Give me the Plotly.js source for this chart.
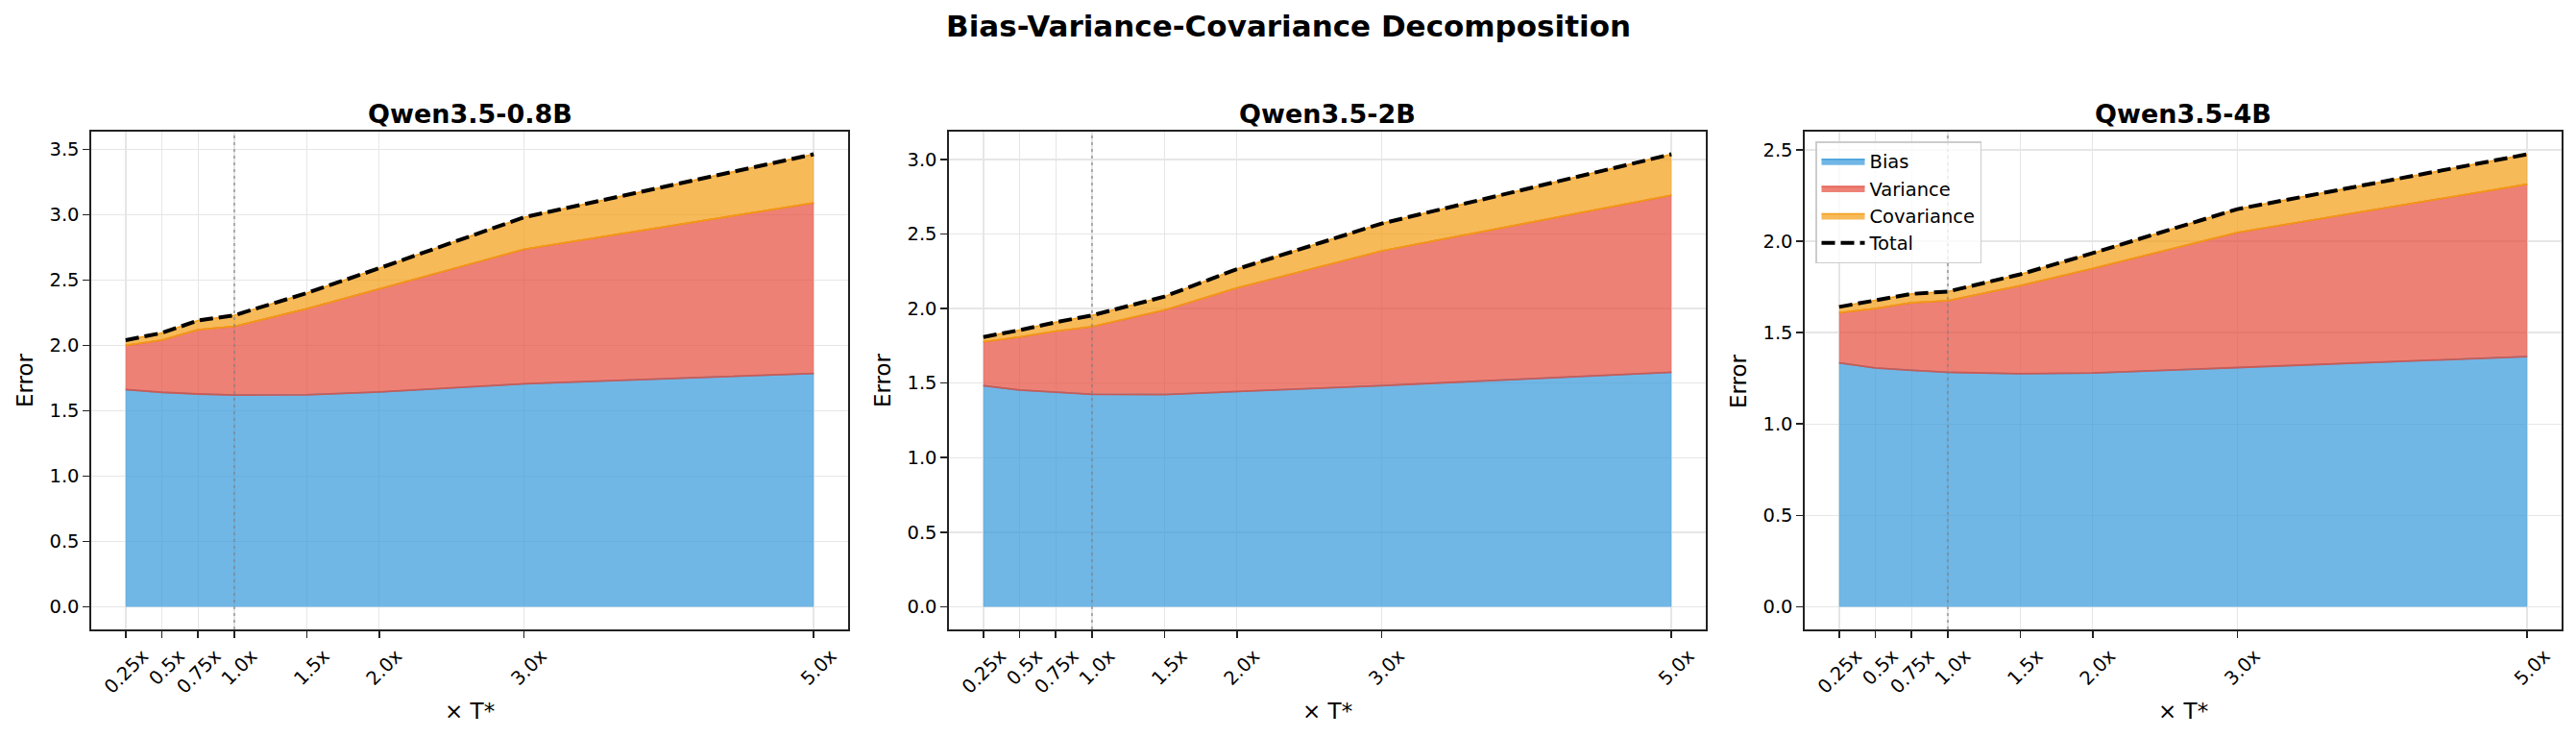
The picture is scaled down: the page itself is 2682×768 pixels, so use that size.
<!DOCTYPE html>
<html>
<head>
<meta charset="utf-8">
<script src="https://cdn.plot.ly/plotly-3.0.1.min.js"></script>
<style>html,body{margin:0;padding:0;background:#fff;}</style>
</head>
<body>
<div id="chart" style="width:2682px;height:768px;"></div>
<script>
// ---- data ----
const multipliers = [0.25, 0.5, 0.75, 1.0, 1.5, 2.0, 3.0, 5.0];
const tickLabels = ['0.25x', '0.5x', '0.75x', '1.0x', '1.5x', '2.0x', '3.0x', '5.0x'];
const modelNames = ['Qwen3.5-0.8B', 'Qwen3.5-2B', 'Qwen3.5-4B'];

const bias08 = [1.662, 1.641, 1.628, 1.620, 1.622, 1.643, 1.706, 1.785];
const variance08 = [0.338, 0.399, 0.492, 0.525, 0.658, 0.787, 1.029, 1.305];
const covariance08 = [0.040, 0.055, 0.070, 0.085, 0.120, 0.160, 0.245, 0.372];

const bias2 = [1.483, 1.453, 1.439, 1.425, 1.423, 1.444, 1.483, 1.572];
const variance2 = [0.294, 0.356, 0.409, 0.453, 0.566, 0.694, 0.903, 1.187];
const covariance2 = [0.032, 0.046, 0.060, 0.076, 0.091, 0.126, 0.184, 0.275];

const bias4 = [1.335, 1.307, 1.294, 1.283, 1.275, 1.279, 1.309, 1.369];
const variance4 = [0.274, 0.325, 0.370, 0.392, 0.482, 0.572, 0.739, 0.943];
const covariance4 = [0.032, 0.043, 0.048, 0.050, 0.062, 0.084, 0.128, 0.164];

const optimalMultiplier = 1.0;

// ---- styling ----
const FONT = 'DejaVu Sans, Liberation Sans, sans-serif';
const colBias = 'rgba(52,152,219,0.7)';
const colVar = 'rgba(231,76,60,0.7)';
const colCov = 'rgba(243,156,18,0.7)';
const edgeBias = 'rgba(52,152,219,0.85)';
const edgeVar = 'rgba(222,80,64,0.85)';
const edgeCov = 'rgba(243,156,18,0.95)';

const panels = [
  {bias: bias08, variance: variance08, covariance: covariance08},
  {bias: bias2, variance: variance2, covariance: covariance2},
  {bias: bias4, variance: variance4, covariance: covariance4}
];

const W = 2682, H = 768;
const xDomPx = [[95, 883], [988, 1776], [1879, 2667]];
const yTopPx = 137, yBotPx = 655;

const traces = [];
const layout = {
  width: W, height: H,
  margin: {l: 0, r: 0, t: 0, b: 0},
  paper_bgcolor: '#ffffff', plot_bgcolor: '#ffffff',
  font: {family: FONT, color: '#000000', size: 19.5},
  showlegend: true,
  legend: {
    x: 1890 / W, y: 1 - 147 / H, xanchor: 'left', yanchor: 'top',
    bgcolor: 'rgba(255,255,255,0.8)', bordercolor: '#cccccc', borderwidth: 1.5,
    font: {family: FONT, size: 19.5, color: '#000'},
    traceorder: 'normal', itemwidth: 45
  },
  annotations: [],
  shapes: []
};

layout.annotations.push({
  text: 'Bias-Variance-Covariance Decomposition',
  xref: 'paper', yref: 'paper', x: 0.5, y: 1 - 27 / H,
  xanchor: 'center', yanchor: 'middle', showarrow: false,
  font: {family: FONT, size: 31, weight: 'bold', color: '#000'}
});

const xPad = 0.05 * (multipliers[multipliers.length - 1] - multipliers[0]);

panels.forEach((p, i) => {
  const n = i + 1;
  const xa = n === 1 ? 'x' : 'x' + n;
  const ya = n === 1 ? 'y' : 'y' + n;
  const cum1 = p.bias.slice();
  const cum2 = p.bias.map((b, k) => b + p.variance[k]);
  const cum3 = cum2.map((v, k) => v + p.covariance[k]);
  const showL = (i === 2);

  traces.push({x: multipliers, y: cum1, xaxis: xa, yaxis: ya, type: 'scatter', mode: 'lines',
    fill: 'tozeroy', fillcolor: colBias, line: {color: edgeBias, width: 1.5},
    name: 'Bias', showlegend: showL, hoverinfo: 'skip'});
  traces.push({x: multipliers, y: cum2, xaxis: xa, yaxis: ya, type: 'scatter', mode: 'lines',
    fill: 'tonexty', fillcolor: colVar, line: {color: edgeVar, width: 1.5},
    name: 'Variance', showlegend: showL, hoverinfo: 'skip'});
  traces.push({x: multipliers, y: cum3, xaxis: xa, yaxis: ya, type: 'scatter', mode: 'lines',
    fill: 'tonexty', fillcolor: colCov, line: {color: edgeCov, width: 1.5},
    name: 'Covariance', showlegend: showL, hoverinfo: 'skip'});
  // edges drawn by the upper polygons
  traces.push({x: multipliers, y: cum1, xaxis: xa, yaxis: ya, type: 'scatter', mode: 'lines',
    line: {color: edgeVar, width: 1.8}, showlegend: false, hoverinfo: 'skip'});
  traces.push({x: multipliers, y: cum2, xaxis: xa, yaxis: ya, type: 'scatter', mode: 'lines',
    line: {color: edgeCov, width: 1.8}, showlegend: false, hoverinfo: 'skip'});
  traces.push({x: multipliers, y: cum3, xaxis: xa, yaxis: ya, type: 'scatter', mode: 'lines',
    line: {color: '#000000', width: 4, dash: '14px,6px'},
    name: 'Total', showlegend: showL, hoverinfo: 'skip'});

  const maxTot = Math.max(...cum3);
  const yPad = 0.05 * maxTot;

  const axBase = {
    showline: true, mirror: true, linecolor: '#222222', linewidth: 1.6,
    showgrid: true, gridcolor: '#e6e6e6', gridwidth: 1.4,
    zeroline: false, ticks: 'outside', ticklen: 7, tickwidth: 1.6, tickcolor: '#222222',
    tickfont: {family: FONT, size: 19.5, color: '#000'}
  };
  layout['xaxis' + (n === 1 ? '' : n)] = Object.assign({}, axBase, {
    domain: [xDomPx[i][0] / W, xDomPx[i][1] / W],
    anchor: ya,
    range: [multipliers[0] - xPad, multipliers[multipliers.length - 1] + xPad],
    tickmode: 'array', tickvals: multipliers, ticktext: tickLabels,
    tickangle: -45, ticklabelshift: 18
  });
  layout['yaxis' + (n === 1 ? '' : n)] = Object.assign({}, axBase, {
    domain: [1 - yBotPx / H, 1 - yTopPx / H],
    anchor: xa,
    range: [-yPad, maxTot + yPad],
    dtick: 0.5, tick0: 0, tickformat: '.1f'
  });

  layout.annotations.push({
    text: modelNames[i], xref: xa + ' domain', yref: 'paper', x: 0.5, y: 1 - 119 / H,
    xanchor: 'center', yanchor: 'middle', showarrow: false,
    font: {family: FONT, size: 27, weight: 'bold', color: '#000'}
  });
  layout.annotations.push({
    text: 'Error', xref: xa + ' domain', yref: 'paper', x: -69 / 788, y: 1 - 396 / H,
    xanchor: 'center', yanchor: 'middle', textangle: -90, showarrow: false,
    font: {family: FONT, size: 23, color: '#000'}
  });
  layout.annotations.push({
    text: '× T*', xref: xa + ' domain', yref: 'paper', x: 0.5, y: 1 - 740 / H,
    xanchor: 'center', yanchor: 'middle', showarrow: false,
    font: {family: FONT, size: 23, color: '#000'}
  });
  layout.shapes.push({
    type: 'line', xref: xa, yref: ya + ' domain', x0: optimalMultiplier, x1: optimalMultiplier,
    y0: 0, y1: 1, layer: 'above',
    line: {color: 'rgba(128,128,128,0.6)', width: 2, dash: '3px,4px'}
  });
});

Plotly.newPlot('chart', traces, layout, {staticPlot: true, displayModeBar: false});
</script>
</body>
</html>
